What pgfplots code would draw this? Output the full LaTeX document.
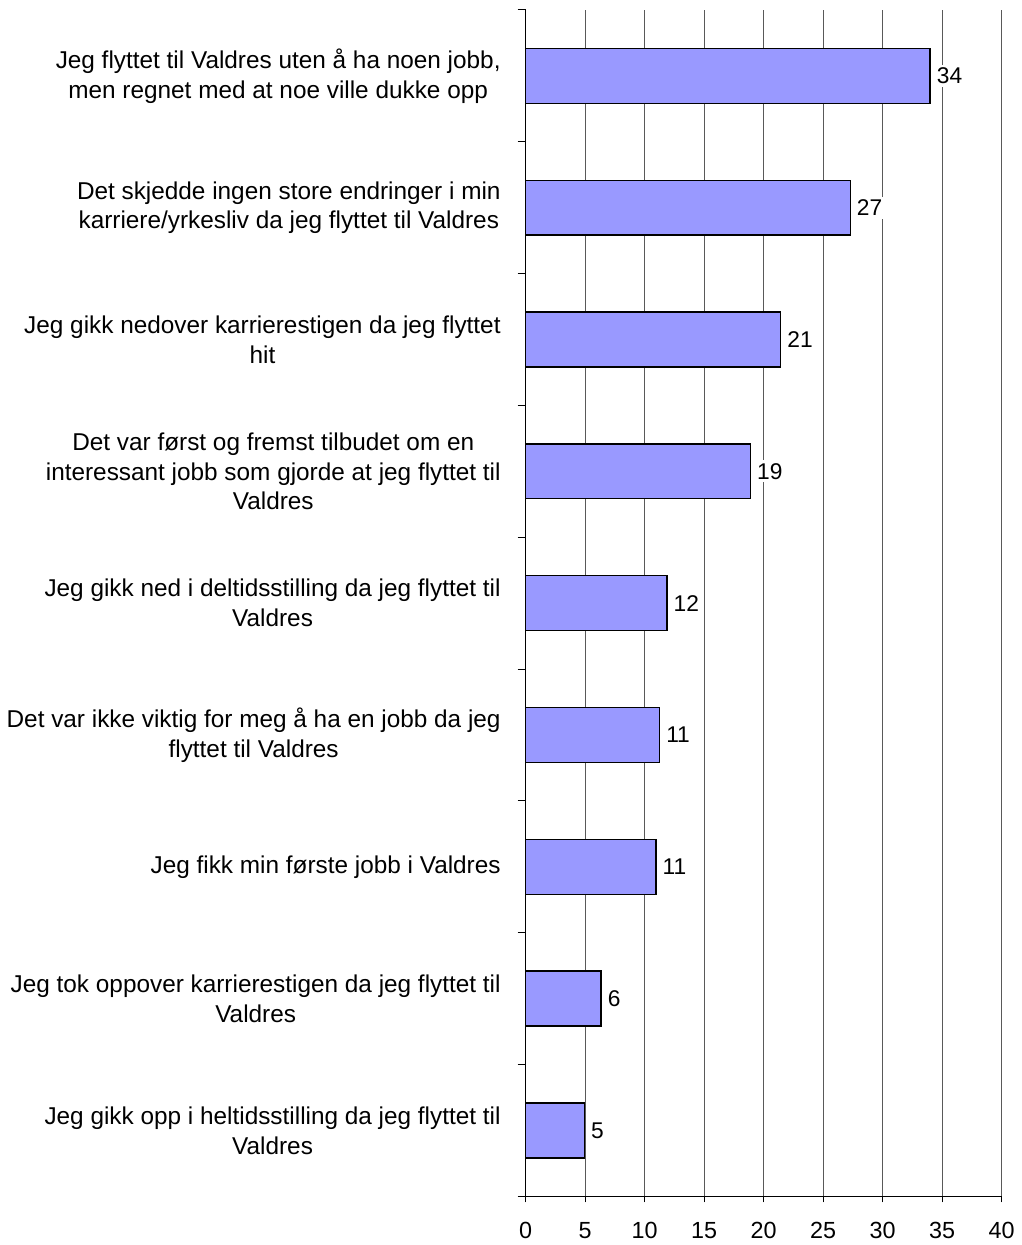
\documentclass[border=0pt]{standalone}
\usepackage{pgfplots}
\pgfplotsset{compat=1.18}
\usepackage{fontspec}
\setmainfont{Liberation Sans}
\definecolor{barblue}{HTML}{9999FF}
\begin{document}
\begin{tikzpicture}
\begin{axis}[
  scale only axis,
  width=238.5pt, height=594.5pt,
  xbar, bar width=27.5pt,
  xmin=0, xmax=40, ymin=-0.5, ymax=8.5,
  axis x line=bottom, axis y line=left,
  axis line style={-, black, line width=0.5pt},
  xtick={0,5,...,40},
  ytick={0,1,...,8},
  minor ytick={-0.5,0.5,...,8.5},
  major y tick style={draw=none},
  minor y tick style={black, line width=0.5pt},
  minor tick length=4pt,
  yticklabels={
    {Jeg gikk opp i heltidsstilling da jeg flyttet til\\Valdres},
    {Jeg tok oppover karrierestigen da jeg flyttet til\\Valdres},
    {Jeg fikk min første jobb i Valdres},
    {Det var ikke viktig for meg å ha en jobb da jeg\\flyttet til Valdres},
    {Jeg gikk ned i deltidsstilling da jeg flyttet til\\Valdres},
    {Det var først og fremst tilbudet om en\\interessant jobb som gjorde at jeg flyttet til\\Valdres},
    {Jeg gikk nedover karrierestigen da jeg flyttet\\hit},
    {Det skjedde ingen store endringer i min\\karriere/yrkesliv da jeg flyttet til Valdres},
    {Jeg flyttet til Valdres uten å ha noen jobb,\\men regnet med at noe ville dukke opp}
  },
  yticklabel style={align=center, xshift=-6pt, font=\fontsize{12.2}{15}\selectfont},
  xticklabel style={font=\fontsize{11.7}{13}\selectfont, yshift=-6pt, text height=8.5pt, text depth=0pt, anchor=north},
  /pgf/number format/assume math mode=true,
  tick align=outside,
  major tick length=3pt,
  major x tick style={black, line width=0.5pt},
  xmajorgrids,
  major grid style={black!65, line width=0.5pt},
  point meta=explicit symbolic,
  nodes near coords,
  every node near coord/.append style={font=\fontsize{11.4}{13}\selectfont, fill=white, inner sep=1.5pt, anchor=west, xshift=1.5pt},
  clip=false,
]
\addplot[fill=barblue, draw=black, line width=0.7pt] coordinates {
  (4.95,0) [5]
  (6.35,1) [6]
  (10.96,2) [11]
  (11.26,3) [11]
  (11.88,4) [12]
  (18.9,5) [19]
  (21.44,6) [21]
  (27.28,7) [27]
  (34.0,8) [34]
};
\end{axis}
\path ([yshift=5pt]current axis.north east);
\end{tikzpicture}
\end{document}
